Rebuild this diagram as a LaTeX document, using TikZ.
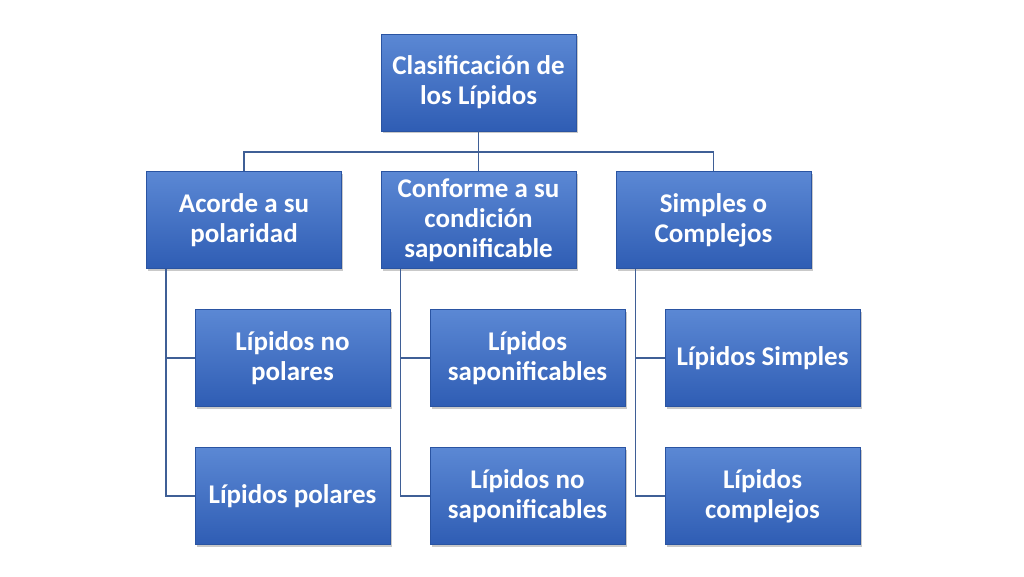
\documentclass[tikz,border=0pt]{standalone}
\usepackage{fontspec}
\setmainfont{Carlito}
\usetikzlibrary{shadows,calc}
\definecolor{boxtop}{HTML}{5B88D4}
\definecolor{boxbot}{HTML}{2F5DB4}
\definecolor{linec}{HTML}{3F5F96}
\tikzset{
  box/.style={minimum width=195pt, minimum height=97pt, inner sep=0pt,
    top color=boxtop, bottom color=boxbot, draw=boxbot!90!black, line width=0.3pt,
    text=white, align=center, font=\fontsize{27}{30}\selectfont\bfseries,
    drop shadow={shadow xshift=1.5pt, shadow yshift=-2pt, opacity=0.35, fill=black!60}},
  conn/.style={draw=linec, line width=1.5pt}
}
\begin{document}
\begin{tikzpicture}[x=1pt,y=-1pt]
\useasboundingbox[fill=white] (0,0) rectangle (1024,576);
\node[box] (top) at (478.5,82.5) {Clasificación de\\los Lípidos};
\node[box] (c1) at (244,220) {Acorde a su\\polaridad};
\node[box] (c2) at (478.5,220) {Conforme a su\\condición\\saponificable};
\node[box] (c3) at (713.5,220) {Simples o\\Complejos};
\node[box] (c1a) at (292.5,358) {Lípidos no\\polares};
\node[box] (c1b) at (292.5,496) {Lípidos polares};
\node[box] (c2a) at (527.5,358) {Lípidos\\saponificables};
\node[box] (c2b) at (527.5,496) {Lípidos no\\saponificables};
\node[box] (c3a) at (762.5,358) {Lípidos Simples};
\node[box] (c3b) at (762.5,496) {Lípidos\\complejos};
\coordinate (bus) at (478.5,152);
\draw[conn] (top.south) -- (bus);
\draw[conn] (bus) -| (c1.north);
\draw[conn] (bus) -- (c2.north);
\draw[conn] (bus) -| (c3.north);
\coordinate (s1) at ($(c1.south west)+(19.5,0)$);
\coordinate (s2) at ($(c2.south west)+(19.5,0)$);
\coordinate (s3) at ($(c3.south west)+(19.5,0)$);
\draw[conn] (s1) |- (c1a.west);
\draw[conn] (s1) |- (c1b.west);
\draw[conn] (s2) |- (c2a.west);
\draw[conn] (s2) |- (c2b.west);
\draw[conn] (s3) |- (c3a.west);
\draw[conn] (s3) |- (c3b.west);
\end{tikzpicture}
\end{document}
